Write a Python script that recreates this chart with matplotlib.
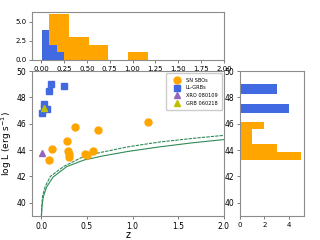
import numpy as np
import matplotlib
matplotlib.use('Agg')
import matplotlib.pyplot as plt

# SN shock breakouts (redshift, log L)
sbo_z = [0.084, 0.12, 0.287, 0.293, 0.30, 0.30, 0.366, 0.48, 0.50, 0.57, 0.62, 1.17]
sbo_L = [43.27, 44.1, 44.68, 43.9, 43.7, 43.5, 45.75, 43.7, 43.6, 43.9, 45.5, 46.17]

# low-luminosity GRBs
llgrb_z = [0.0085, 0.033, 0.035, 0.059, 0.09, 0.105, 0.25]
llgrb_L = [46.8, 47.2, 47.5, 47.1, 48.5, 49.0, 48.9]

# single events
xro_z, xro_L = [0.0065], [43.8]
grb_z, grb_L = [0.033], [47.2]

# detection limits
lim1_z = [0.003, 0.01, 0.025, 0.06, 0.13, 0.28, 0.47, 0.67, 0.95, 1.3, 1.65, 2.0]
lim1_L = [39.0, 39.8, 40.5, 41.2, 41.95, 42.75, 43.25, 43.55, 43.9, 44.25, 44.55, 44.8]
lim2_z = [0.003, 0.008, 0.014, 0.044, 0.1, 0.246, 0.43, 0.6, 0.95, 1.3, 1.7, 2.0]
lim2_L = [39.0, 39.8, 40.46, 41.23, 42.0, 42.76, 43.4, 43.75, 44.25, 44.62, 44.92, 45.12]

c_sbo = 'orange'
c_grb = 'royalblue'
c_line = 'seagreen'

fig = plt.figure(figsize=(3.2, 2.4), dpi=100)
ax = fig.add_axes([0.1, 0.1, 0.6, 0.604])
axt = fig.add_axes([0.1, 0.75, 0.6, 0.2])
axr = fig.add_axes([0.75, 0.1, 0.2, 0.604])

ax.plot(lim1_z, lim1_L, color=c_line, lw=0.8)
ax.plot(lim2_z, lim2_L, color=c_line, lw=0.8, ls='--', dashes=(3, 1))
ax.plot(sbo_z, sbo_L, 'o', color=c_sbo, ms=5, label='SN SBOs')
ax.plot(llgrb_z, llgrb_L, 's', color=c_grb, ms=5, label='LL-GRBs')
ax.plot(xro_z, xro_L, '^', color='tab:purple', ms=5, label='XRO 080109')
ax.plot(grb_z, grb_L, '^', color='y', ms=5, label='GRB 060218')
ax.set_xlim(-0.1, 2.0)
ax.set_ylim(39, 50)
ax.set_xlabel('z', fontsize=7)
ax.set_ylabel('log L (erg s$^{-1}$)', fontsize=6.5)
ax.xaxis.set_label_coords(0.5, -0.1)
ax.yaxis.set_label_coords(-0.095, 0.5)
ax.legend(loc='upper right', fontsize=3.6, handlelength=2.6, borderpad=0.9,
          labelspacing=0.55, handletextpad=0.5, borderaxespad=0.4, framealpha=1)

axt.hist(sbo_z, bins=5, color=c_sbo)
axt.hist(llgrb_z, bins=3, color=c_grb)
axt.set_xlim(-0.1, 2.0)
axt.set_yticks([0, 2.5, 5.0])

axr.hist(sbo_L, bins=5, color=c_sbo, orientation='horizontal')
axr.hist(llgrb_L, bins=3, color=c_grb, orientation='horizontal')
axr.set_ylim(39, 50)
axr.set_xticks([0, 2, 4])

for a in (ax, axt, axr):
    for s in a.spines.values():
        s.set_color('0.55')
    a.tick_params(colors='0.4', labelcolor='black', length=2.5, width=0.6, pad=1.5)
ax.tick_params(labelsize=5.5)
axt.tick_params(labelsize=5)
axr.tick_params(axis='y', labelsize=5.5)
axr.tick_params(axis='x', labelsize=5)

fig.savefig('out.png', dpi=100)
